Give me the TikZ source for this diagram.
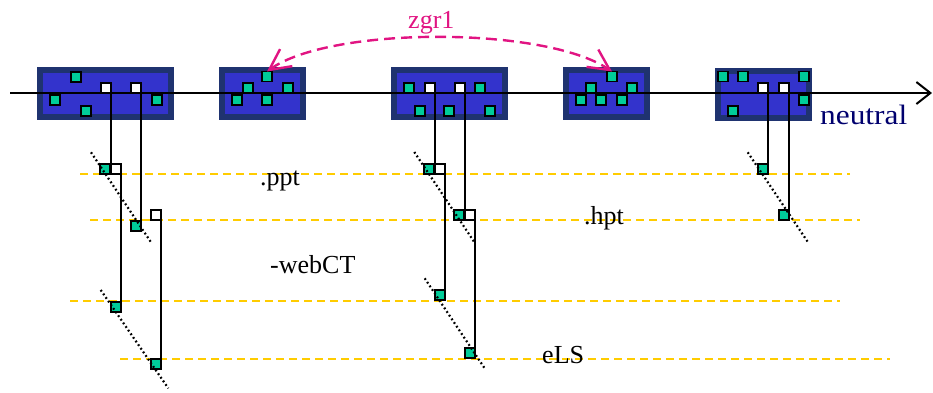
\documentclass[tikz,border=0pt]{standalone}
\usepackage{fontspec}
\setmainfont{Liberation Serif}
\usepackage{graphicx}
\usetikzlibrary{arrows.meta}
\definecolor{boxdark}{RGB}{31,51,112}
\definecolor{boxblue}{RGB}{51,51,204}
\definecolor{sqgreen}{RGB}{0,204,153}
\definecolor{ylw}{RGB}{255,204,0}
\definecolor{mag}{RGB}{225,20,130}
\definecolor{navy}{RGB}{0,0,110}
\tikzset{
  bx/.style={draw=boxdark, fill=boxblue, line width=6pt, inner sep=0pt, outer sep=0pt, minimum height=47pt},
  sq/.style={draw=black, line width=1.7pt, minimum size=10pt, inner sep=0pt, outer sep=0pt, fill=sqgreen},
  wsq/.style={sq, fill=white},
  ydash/.style={draw=ylw, line width=1.8pt, dash pattern=on 8pt off 5pt},
  dots/.style={draw=black, line width=2.2pt, dash pattern=on 1.8pt off 2.6pt},
  conn/.style={draw=black, line width=2pt},
  lbl/.style={inner sep=0pt, anchor=base west, font=\fontsize{26}{30}\selectfont},
}
\begin{document}
\begin{tikzpicture}[x=1pt,y=-1pt]
\useasboundingbox (0,0) rectangle (933,392);
% yellow dashed levels
\draw[ydash] (80,174.3) -- (850,174.3);
\draw[ydash] (90,220.3) -- (860,220.3);
\draw[ydash] (70,301) -- (840,301);
\draw[ydash] (120,358.7) -- (890,358.7);
% boxes
\node[bx, minimum width=131pt] (b1) at (105.5,93.5) {};
\node[bx, minimum width=81pt] (b2) at (262.5,93.5) {};
\node[bx, minimum width=111pt] (b3) at (449.5,93.5) {};
\node[bx, minimum width=81pt] (b4) at (606.5,93.5) {};
\node[bx, minimum width=91pt] (b5) at (763.5,94) {};
% axis
\coordinate (ax0) at (10,93);
\coordinate (ax1) at (932,93);
\draw[line width=2pt, -{Straight Barb[length=14pt,width=22pt]}] (ax0) -- (ax1);
% squares in boxes
\node[sq] (b1g1) at (76,77) {};
\node[wsq] (b1w1) at (106,88) {};
\node[wsq] (b1w2) at (136,88) {};
\node[sq] (b1g2) at (55,100) {};
\node[sq] (b1g3) at (86,111) {};
\node[sq] (b1g4) at (157,100) {};
\node[sq] (b2g1) at (267,76.5) {};
\node[sq] (b2g2) at (248,88) {};
\node[sq] (b2g3) at (288,88) {};
\node[sq] (b2g4) at (237,100) {};
\node[sq] (b2g5) at (267,100) {};
\node[sq] (b3g1) at (409,88) {};
\node[wsq] (b3w1) at (430,88) {};
\node[wsq] (b3w2) at (460,88) {};
\node[sq] (b3g2) at (480,88) {};
\node[sq] (b3g3) at (420,111) {};
\node[sq] (b3g4) at (449,111) {};
\node[sq] (b3g5) at (490,111) {};
\node[sq] (b4g1) at (612,76.5) {};
\node[sq] (b4g2) at (591,88) {};
\node[sq] (b4g3) at (632,88) {};
\node[sq] (b4g4) at (581,100) {};
\node[sq] (b4g5) at (601,100) {};
\node[sq] (b4g6) at (622,100) {};
\node[sq] (b5g1) at (723,76.5) {};
\node[sq] (b5g2) at (743,76.5) {};
\node[sq] (b5g3) at (804,76.5) {};
\node[wsq] (b5w1) at (763,88) {};
\node[wsq] (b5w2) at (784,88) {};
\node[sq] (b5g4) at (804,100) {};
\node[sq] (b5g5) at (733,111) {};
% lower squares
\node[sq] (A1) at (105,168.7) {};
\node[wsq] (A1w) at (116,168.7) {};
\node[sq] (B1) at (136,226) {};
\node[wsq] (B1w) at (156,214.7) {};
\node[sq] (C1) at (116,307) {};
\node[sq] (D1) at (156,364) {};
\node[sq] (A2) at (429,168.7) {};
\node[wsq] (A2w) at (440,168.7) {};
\node[sq] (B2) at (459,214.7) {};
\node[wsq] (B2w) at (470,214.7) {};
\node[sq] (C2) at (440,295.3) {};
\node[sq] (D2) at (470,352.7) {};
\node[sq] (A3) at (763,168.7) {};
\node[sq] (B3) at (784,214.7) {};
% vertical connectors
\draw[conn] (b1w1.south east) -- (b1w1.south east |- A1.north);
\draw[conn] (A1w.north east) -- (A1w.north east |- C1.south);
\draw[conn] (b1w2.south east) -- (b1w2.south east |- B1.north);
\draw[conn] (B1w.north east) -- (B1w.north east |- D1.south);
\draw[conn] (b3w1.south east) -- (b3w1.south east |- A2.north);
\draw[conn] (A2w.north east) -- (A2w.north east |- C2.south);
\draw[conn] (b3w2.south east) -- (b3w2.south east |- B2.north);
\draw[conn] (B2w.north east) -- (B2w.north east |- D2.south);
\draw[conn] (b5w1.south east) -- (b5w1.south east |- A3.north);
\draw[conn] (b5w2.south east) -- (b5w2.south east |- B3.north);
% lower squares again, on top of the connectors
\foreach \n in {A1,B1,C1,D1,A2,B2,C2,D2,A3,B3} {\node[sq] at (\n) {};}
\foreach \n in {A1w,B1w,A2w,B2w} {\node[wsq] at (\n) {};}
% dotted diagonals
\draw[dots] (91,152.3) -- (151.3,242.7);
\draw[dots] (100.7,290) -- (168.3,388.3);
\draw[dots] (414.3,152) -- (474.7,242.7);
\draw[dots] (424.7,278.3) -- (485.3,369.3);
\draw[dots] (747.7,152.3) -- (808.3,242.7);
% magenta arc
\draw[draw=mag, line width=2.4pt, dash pattern=on 11pt off 6pt,
  {Straight Barb[length=21pt,width=21pt]}-{Straight Barb[length=21pt,width=21pt]}]
  (b2g1.north) .. controls (330,26) and (545,26) .. (b4g1.north);
% labels
\node[lbl, text=mag] (tz) at (408,28.3) {zgr1};
\node[lbl] (tppt) at (260,185) {.ppt};
\node[lbl] (thpt) at (584,224) {.hpt};
\node[lbl] (tweb) at (270,273) {-webCT};
\node[lbl] (tels) at (542,363.3) {eLS};
\node[lbl, text=navy, font=\fontsize{28}{32}\selectfont] (tneu) at (820,124.3) {\scalebox{1.12}[1]{neutral}};
\end{tikzpicture}
\end{document}
